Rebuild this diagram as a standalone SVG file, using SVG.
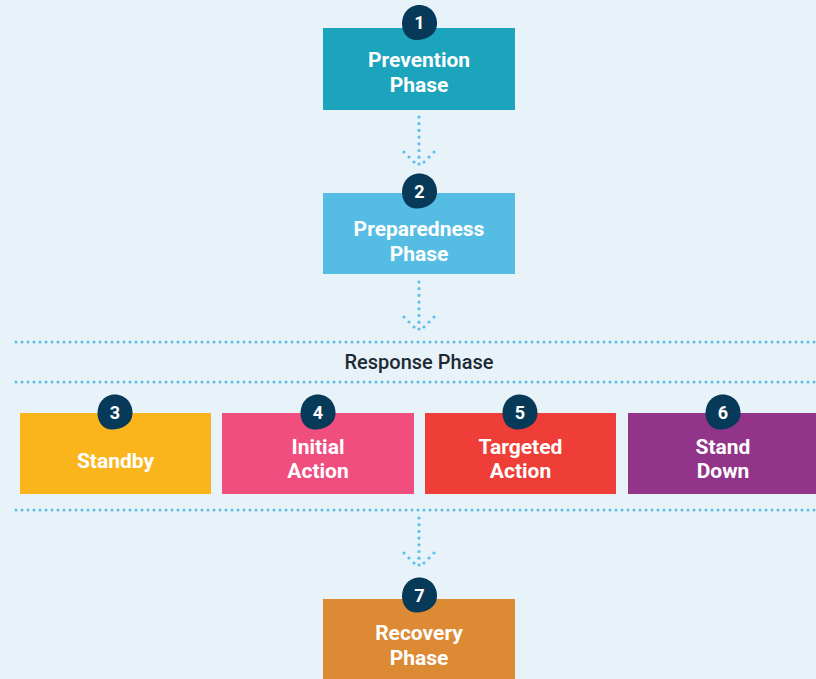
<svg xmlns="http://www.w3.org/2000/svg" width="816" height="679" viewBox="0 0 816 679">
<style>
.lbl{font-family:Roboto,"Liberation Sans",sans-serif;font-weight:700;font-size:21px;fill:#ffffff;text-anchor:middle}
.num{font-family:Roboto,"Liberation Sans",sans-serif;font-weight:700;font-size:18px;fill:#ffffff;text-anchor:middle}
.hdr{font-family:Roboto,"Liberation Sans",sans-serif;font-weight:500;font-size:20px;fill:#1e2a33;text-anchor:middle}
.dots{stroke:#5fbfe6;stroke-width:3;stroke-linecap:round;stroke-dasharray:0 6;fill:none}
.adot{fill:#5fbfe6}
</style>
<defs>
<path id="blob" d="M -2 -17.5 C 10 -18.5 18 -9 17.5 2 C 17 12 7 17.5 -3 17.5 C -12 17.5 -17.5 10 -17.5 1 C -17.5 -9 -11 -16.5 -2 -17.5 Z" fill="#073a58"/>
<g id="arrow">
<circle class="adot" cx="0" cy="0" r="1.6"/>
<circle class="adot" cx="0" cy="6.7" r="1.6"/>
<circle class="adot" cx="0" cy="13.4" r="1.6"/>
<circle class="adot" cx="0" cy="20.1" r="1.6"/>
<circle class="adot" cx="0" cy="26.8" r="1.6"/>
<circle class="adot" cx="0" cy="33.5" r="1.6"/>
<circle class="adot" cx="0" cy="40.2" r="1.6"/>
<circle class="adot" cx="0" cy="47" r="1.6"/>
<circle class="adot" cx="-15" cy="35" r="1.6"/>
<circle class="adot" cx="-10" cy="40" r="1.6"/>
<circle class="adot" cx="-5" cy="45" r="1.6"/>
<circle class="adot" cx="15" cy="35" r="1.6"/>
<circle class="adot" cx="10" cy="40" r="1.6"/>
<circle class="adot" cx="5" cy="45" r="1.6"/>
</g>
</defs>
<rect x="0" y="0" width="816" height="679" fill="#e7f2f9"/>
<g id="connectors">
<use href="#arrow" x="419" y="117"/>
<use href="#arrow" x="419" y="282"/>
<use href="#arrow" x="419" y="518"/>
<line class="dots" x1="16" y1="342" x2="816" y2="342"/>
<line class="dots" x1="16" y1="382" x2="816" y2="382"/>
<line class="dots" x1="16" y1="510" x2="816" y2="510"/>
</g>
<g id="response-phase"><text class="hdr" x="419" y="369">Response Phase</text></g>
<g id="node1">
<rect x="323" y="28" width="192" height="82" fill="#1ba4bb"/>
<text class="lbl" x="419" y="67">Prevention</text>
<text class="lbl" x="419" y="92">Phase</text>
<use href="#blob" x="419.5" y="22.5"/>
<text class="num" x="419.5" y="29">1</text>
</g>
<g id="node2">
<rect x="323" y="193" width="192" height="81" fill="#55bde3"/>
<text class="lbl" x="419" y="236">Preparedness</text>
<text class="lbl" x="419" y="261">Phase</text>
<use href="#blob" x="419.5" y="191"/>
<text class="num" x="419.5" y="197.5">2</text>
</g>
<g id="node3">
<rect x="20" y="413" width="191" height="81" fill="#fbb51c"/>
<text class="lbl" x="115.5" y="468">Standby</text>
<use href="#blob" x="115" y="412"/>
<text class="num" x="115" y="418.5">3</text>
</g>
<g id="node4">
<rect x="222" y="413" width="192" height="81" fill="#f04e7f"/>
<text class="lbl" x="318" y="454">Initial</text>
<text class="lbl" x="318" y="478">Action</text>
<use href="#blob" x="318" y="412"/>
<text class="num" x="318" y="418.5">4</text>
</g>
<g id="node5">
<rect x="425" y="413" width="191" height="81" fill="#ee3e37"/>
<text class="lbl" x="520.5" y="454">Targeted</text>
<text class="lbl" x="520.5" y="478">Action</text>
<use href="#blob" x="520" y="412"/>
<text class="num" x="520" y="418.5">5</text>
</g>
<g id="node6">
<rect x="628" y="413" width="191" height="81" fill="#91348a"/>
<text class="lbl" x="723" y="454">Stand</text>
<text class="lbl" x="723" y="478">Down</text>
<use href="#blob" x="723" y="412"/>
<text class="num" x="723" y="418.5">6</text>
</g>
<g id="node7">
<rect x="323" y="599" width="192" height="85" fill="#dc8a34"/>
<text class="lbl" x="419" y="640">Recovery</text>
<text class="lbl" x="419" y="665">Phase</text>
<use href="#blob" x="419.5" y="595"/>
<text class="num" x="419.5" y="601.5">7</text>
</g>
</svg>
